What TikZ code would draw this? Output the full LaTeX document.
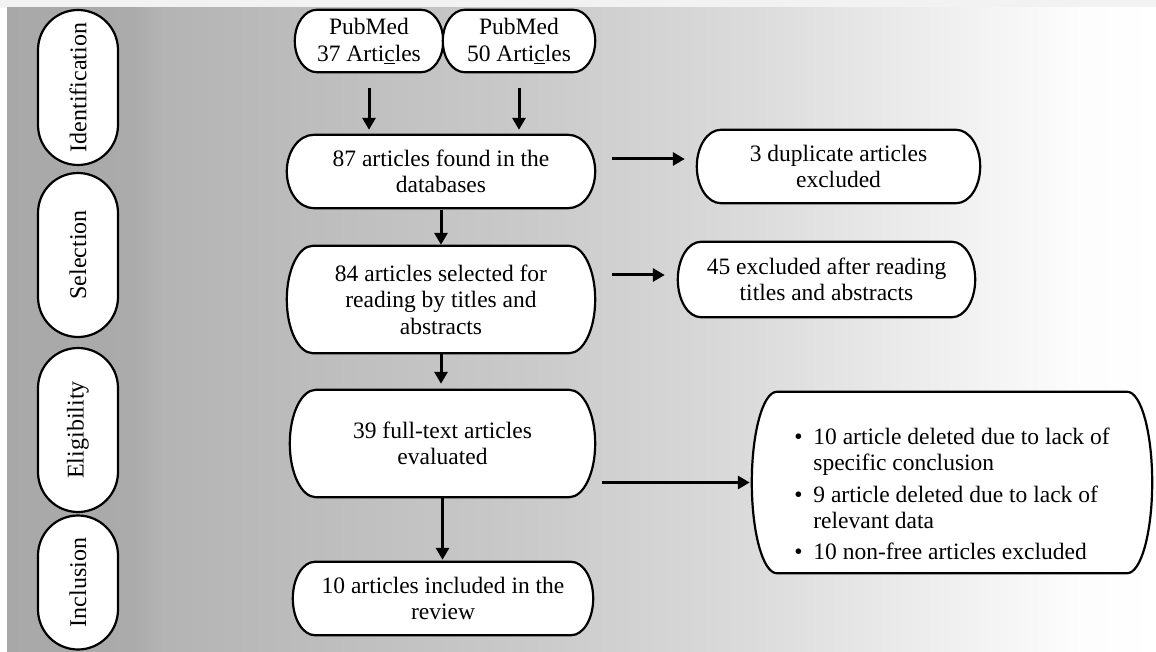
\documentclass[tikz,border=0pt]{standalone}
\usepackage{fontspec}
\setmainfont{Liberation Serif}
\usetikzlibrary{shapes.misc,arrows.meta,calc}
\pgfdeclarelayer{bg}
\pgfdeclarelayer{outl}
\pgfsetlayers{bg,outl,main}
\pgfdeclarehorizontalshading{bgshade}{100bp}{rgb(0bp)=(0.66,0.66,0.66); rgb(25bp)=(0.66,0.66,0.66); rgb(30.5bp)=(0.67,0.67,0.67); rgb(31.75bp)=(0.705,0.705,0.705); rgb(47.5bp)=(0.79,0.79,0.79); rgb(57.5bp)=(0.86,0.86,0.86); rgb(65bp)=(0.93,0.93,0.93); rgb(71.5bp)=(0.99,0.99,0.99); rgb(75bp)=(1,1,1); rgb(100bp)=(1,1,1)}
\tikzset{
  box/.style={rectangle, inner sep=0pt, align=center, font=\fontsize{23.5}{26.5}\selectfont},
  outline/.style={draw=black, line width=2.2pt, fill=white},
  phase/.style={rounded rectangle, draw=black, line width=2.2pt, fill=white, rotate=90, inner sep=0pt, minimum height=80pt, font=\fontsize{24}{28}\selectfont},
  arr/.style={line width=3pt, -{Triangle[length=12pt,width=13pt]}},
}
% outline of a box with half-elliptic ends: #1 node name, #2 horizontal radius (pt)
\newcommand\capsuleoutline[2]{%
  \begin{pgfonlayer}{outl}
  \path[outline] let \p1=(#1.north west), \p2=(#1.south east), \n1={abs(\y1-\y2)/2} in
    ([xshift=#2pt]#1.north west) -- ([xshift=-#2pt]#1.north east)
    arc[start angle=90, end angle=-90, x radius=#2pt, y radius=\n1]
    -- ([xshift=#2pt]#1.south west)
    arc[start angle=270, end angle=90, x radius=#2pt, y radius=\n1] -- cycle;
  \end{pgfonlayer}}
\begin{document}
\begin{tikzpicture}[x=1pt,y=-1pt]
\useasboundingbox (0,0) rectangle (1156,652);
\begin{pgfonlayer}{bg}
\fill[black!5] (0,0) rectangle (1156,8);
\shade[shading=bgshade] (7,8) rectangle (1156,652);
\end{pgfonlayer}

% phases
\node[phase, minimum width=155pt] (id) at (78,87.5) {Identification};
\node[phase, minimum width=164pt] (sel) at (78,255) {Selection};
\node[phase, minimum width=164pt] (eli) at (78,430) {Eligibility};
\node[phase, minimum width=134pt] (inc) at (78,582.5) {Inclusion};

% main boxes
\node[box, minimum width=148pt, minimum height=62pt] (pm1) at (369,41) {PubMed\\37 Arti\underline{c}les};
\node[box, minimum width=152pt, minimum height=62pt] (pm2) at (519,41) {PubMed\\50 Arti\underline{c}les};
\node[box, minimum width=308pt, minimum height=73pt] (n87) at (441,171.5) {87 articles found in the\\databases};
\node[box, minimum width=283pt, minimum height=73pt] (dup) at (838.5,166.5) {3 duplicate articles\\excluded};
\node[box, minimum width=308pt, minimum height=107pt] (n84) at (441,299.5) {84 articles selected for\\reading by titles and\\abstracts};
\node[box, minimum width=297pt, minimum height=75pt] (ex45) at (826.5,279.5) {45 excluded after reading\\titles and abstracts};
\node[box, minimum width=305pt, minimum height=107pt] (n39) at (442.5,443.5) {39 full-text articles\\evaluated};
\node[box, minimum width=300pt, minimum height=73pt] (n10) at (443,598.5) {10 articles included in the\\review};
\node[box, minimum width=400pt, minimum height=181pt, align=left, font=\fontsize{23.5}{26}\selectfont] (bul) at (952,482.5)
{\rule{0pt}{40pt}\makebox[19pt][l]{\textbullet}10 article deleted due to lack of\\\hspace*{19pt}specific conclusion\\[5.5pt]\makebox[19pt][l]{\textbullet}9 article deleted due to lack of\\\hspace*{19pt}relevant data\\[5.5pt]\makebox[19pt][l]{\textbullet}10 non-free articles excluded};

\capsuleoutline{pm1}{22}
\capsuleoutline{pm2}{22}
\capsuleoutline{n87}{27}
\capsuleoutline{dup}{24}
\capsuleoutline{n84}{26}
\capsuleoutline{ex45}{23}
\capsuleoutline{n39}{26}
\capsuleoutline{n10}{22}
\capsuleoutline{bul}{25}

% arrows
\draw[arr, shorten <=16pt, shorten >=5pt] (pm1.south) -- (pm1.south |- n87.north);
\draw[arr, shorten <=16pt, shorten >=5pt] (pm2.south) -- (pm2.south |- n87.north);
\draw[arr, shorten <=17pt, shorten >=12pt] ([yshift=12.5pt]n87.east) -- ([yshift=12.5pt]n87.east -| dup.west);
\draw[arr, shorten <=2pt, shorten >=1pt] (n87.south) -- (n87.south |- n84.north);
\draw[arr, shorten <=17pt, shorten >=13pt] ([yshift=24.5pt]n84.east) -- ([yshift=24.5pt]n84.east -| ex45.west);
\draw[arr, shorten >=6pt] (n84.south) -- (n84.south |- n39.north);
\draw[arr, shorten >=2pt] (n39.south) -- (n39.south |- n10.north);
\draw[arr, shorten <=7pt, shorten >=2pt] (n39.east |- bul.west) -- (bul.west);
\end{tikzpicture}
\end{document}
